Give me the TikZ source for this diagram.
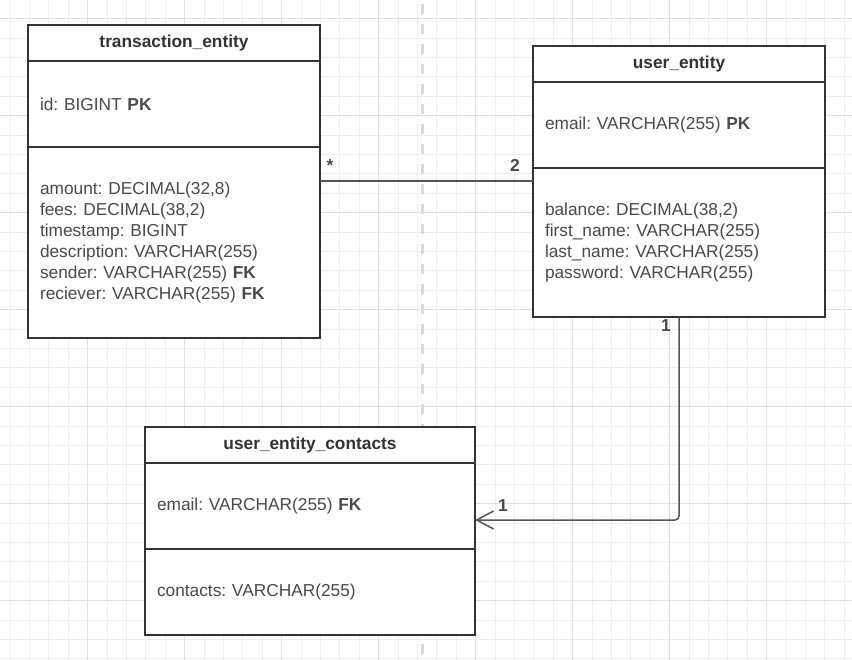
\documentclass[tikz,border=0pt]{standalone}
\usepackage{fontspec}
\setmainfont{Liberation Sans}
\usetikzlibrary{positioning,arrows.meta}
\definecolor{gridminor}{HTML}{EEEEEE}
\definecolor{gridmajor}{HTML}{E0E0E0}
\definecolor{boxline}{HTML}{333333}
\definecolor{wirec}{HTML}{555555}
\definecolor{ink}{HTML}{4A4A4A}
\definecolor{splitc}{HTML}{DADADA}
\newcommand{\cellfont}{\fontsize{17.3pt}{21pt}\selectfont\frenchspacing}
\tikzset{
  cell/.style={draw=boxline, line width=1.6pt, fill=white,
    inner xsep=12pt, inner ysep=0pt, outer sep=0pt,
    text width=#1, align=left, text=ink, font=\cellfont},
  headcell/.style={cell=#1, align=center, minimum height=36pt,
    text=boxline, font=\cellfont\bfseries},
  wire/.style={draw=wirec, line width=1.5pt},
  mult/.style={anchor=base, text=ink, inner sep=0pt,
    font=\cellfont\bfseries},
}

\begin{document}
\begin{tikzpicture}[x=1pt,y=-1pt]
\useasboundingbox (0,0) rectangle (852,660);
\foreach \i in {0,...,43}
  \draw[gridminor, line width=1pt] ({10.1+19.4*\i},0) -- ++(0,660);
\foreach \j in {0,...,33}
  \draw[gridminor, line width=1pt] (0,{18.7+19.4*\j}) -- ++(852,0);
\foreach \i in {4,9,...,39}
  \draw[gridmajor, line width=1pt] ({10.1+19.4*\i},0) -- ++(0,660);
\foreach \j in {0,5,...,30}
  \draw[gridmajor, line width=1pt] (0,{18.7+19.4*\j}) -- ++(852,0);
\draw[splitc, line width=3pt, dash pattern=on 10pt off 10pt]
  (422.3,4) -- (422.3,660);

\node[headcell=268pt, anchor=north west] (tHead) at (28,25)
  {transaction\_entity};
\node[cell=268pt, minimum height=86pt, below=0pt of tHead] (tKey)
  {id: BIGINT \textbf{PK}};
\node[cell=268pt, minimum height=191pt, below=0pt of tKey] (tCols)
  {amount: DECIMAL(32,8)\\
   fees: DECIMAL(38,2)\\
   timestamp: BIGINT\\
   description: VARCHAR(255)\\
   sender: VARCHAR(255) \textbf{FK}\\
   reciever: VARCHAR(255) \textbf{FK}};

\node[headcell=268pt, anchor=north west] (uHead) at (533,46)
  {user\_entity};
\node[cell=268pt, minimum height=86pt, below=0pt of uHead] (uKey)
  {email: VARCHAR(255) \textbf{PK}};
\node[cell=268pt, minimum height=149pt, below=0pt of uKey] (uCols)
  {balance: DECIMAL(38,2)\\
   first\_name: VARCHAR(255)\\
   last\_name: VARCHAR(255)\\
   password: VARCHAR(255)};

\node[headcell=306pt, anchor=north west] (cHead) at (145,427)
  {user\_entity\_contacts};
\node[cell=306pt, minimum height=86pt, below=0pt of cHead] (cKey)
  {email: VARCHAR(255) \textbf{FK}};
\node[cell=306pt, minimum height=86pt, below=0pt of cKey] (cCols)
  {contacts: VARCHAR(255)};

\coordinate (row) at (0,181);
\coordinate (link) at (0,520);
\draw[wire]
  (tCols.east |- row) -- (uCols.west |- row);
\draw[wire, rounded corners=4pt, -{Straight Barb[length=17pt,width=18pt]}]
  (uCols.south) |- (cKey.east |- link);

\node[mult] (mStar) at (330,172) {*};
\node[mult] (mTwo) at (515,172) {2};
\node[mult] (mOneU) at (666,332) {1};
\node[mult] (mOneC) at (503,511) {1};
\end{tikzpicture}
\end{document}
